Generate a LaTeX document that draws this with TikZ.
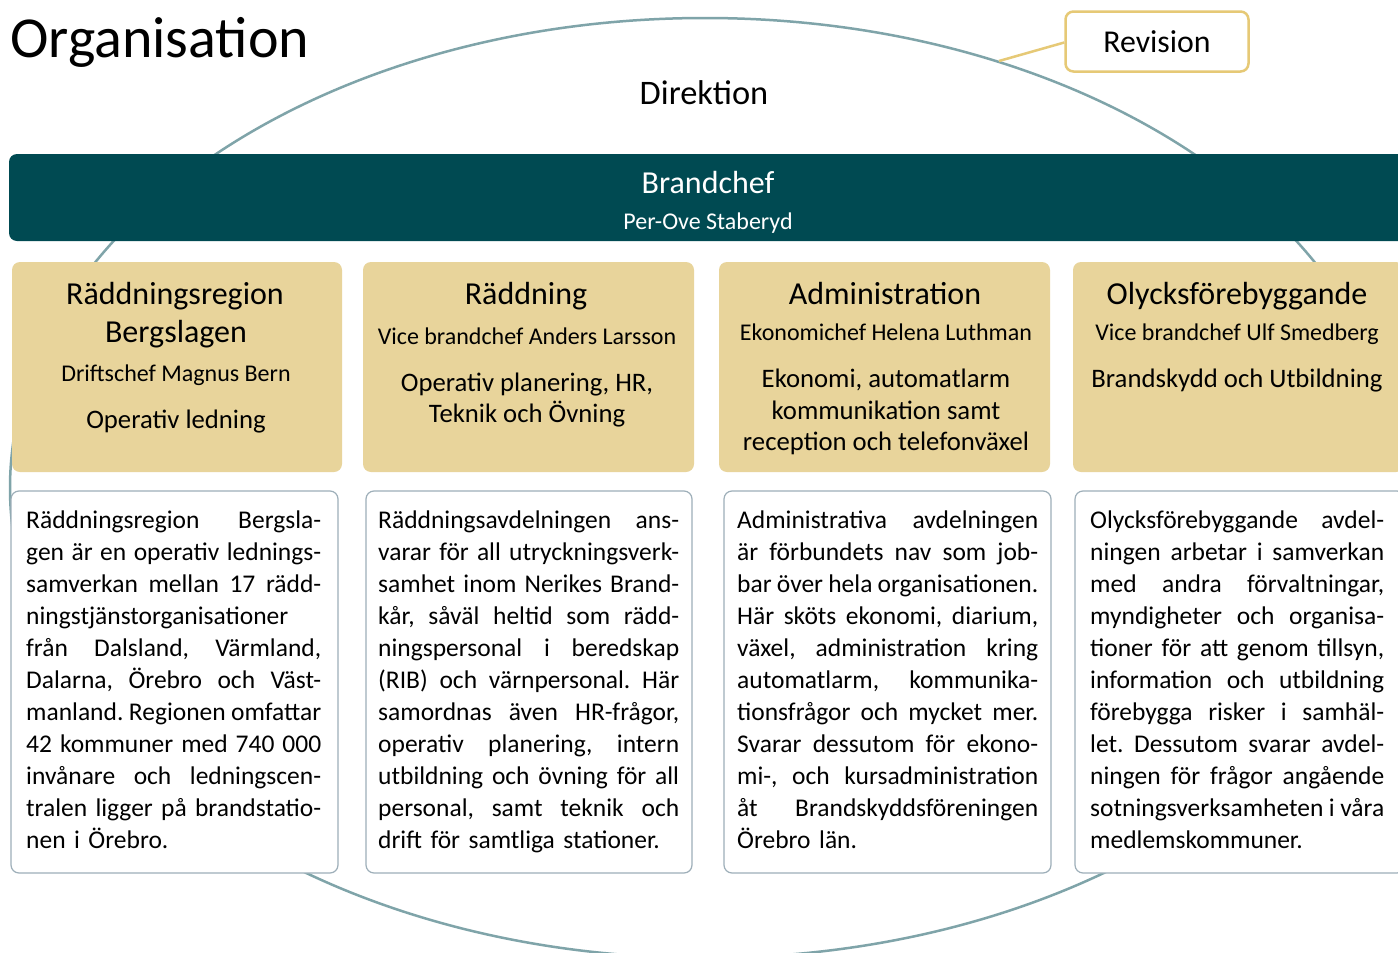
\documentclass[tikz,border=0pt]{standalone}
\usepackage{fontspec}
\setmainfont{Carlito}
\definecolor{brandteal}{HTML}{004A52}
\definecolor{ellcol}{HTML}{7FA4A9}
\definecolor{yfill}{HTML}{E8D49B}
\definecolor{revcol}{HTML}{E6C976}
\definecolor{tbord}{HTML}{9EAFB9}
\newcommand\fs[2]{\fontsize{#1}{#2}\selectfont}
\newcommand\curw{295pt}
\newcommand\jl[1]{\hbox to \curw{\spaceskip=0.226em plus 1fil minus 0.12em\relax #1}}
\newcommand\lastl[1]{\hbox{#1}}
\tikzset{
  ybox/.style={fill=yfill, rounded corners=8pt, draw=none, inner sep=0pt},
  tbox/.style={fill=white, draw=tbord, line width=1.2pt, rounded corners=8pt, inner sep=0pt},
  htitle/.style={anchor=base, inner sep=0pt, font=\fs{32}{36}},
  hsub/.style={anchor=base, inner sep=0pt, font=\fs{24}{28}},
  hmain/.style={anchor=base, inner sep=0pt, font=\fs{26.7}{30}},
  body/.style={anchor=north west, inner sep=0pt, text width=#1, align=left, font=\fs{25.5}{32}\frenchspacing},
}
\begin{document}
\begin{tikzpicture}[x=1pt,y=-1pt]
\clip (0,0) rectangle (1398,953);
\fill[white] (0,0) rectangle (1398,953);
% ellipse
\draw[ellcol, line width=2.5pt] (705,488) ellipse [x radius=695pt, y radius=470pt];
\coordinate (revE) at (999,61);
% title
\node[anchor=base west, inner sep=0pt, font=\fs{58}{64}] (title) at (10,57) {Organisation};
\node[anchor=base, inner sep=0pt, font=\fs{34.4}{38}] (direktion) at (704,104) {Direktion};
% revision
\node[draw=revcol, line width=2.5pt, fill=white, rounded corners=8pt, minimum width=183pt, minimum height=60pt, inner sep=0pt, font=\fs{31.8}{34}] (revision) at (1157,41.5) {Revision};
\draw[revcol, line width=2.5pt] (revision.west) ++(0,1) -- (revE);
% brandchef bar
\node[fill=brandteal, rounded corners=8pt, minimum width=1398pt, minimum height=87pt, inner sep=0pt] (bar) at (708,197.5) {};
\node[anchor=base, inner sep=0pt, text=white, font=\fs{32}{36}] (bc) at (708,193) {Brandchef};
\node[anchor=base, inner sep=0pt, text=white, font=\fs{24}{28}] (bcname) at (708,229) {Per-Ove Staberyd};
% header boxes
\node[ybox, minimum width=330pt, minimum height=210pt] (h1) at (177,367) {};
\node[ybox, minimum width=331pt, minimum height=210pt] (h2) at (528.5,367) {};
\node[ybox, minimum width=331pt, minimum height=210pt] (h3) at (884.5,367) {};
\node[ybox, minimum width=331pt, minimum height=210pt] (h4) at (1238.5,367) {};
% header texts
\node[htitle] (h1a) at (175,304) {Räddningsregion};
\node[htitle] (h1b) at (176,342) {Bergslagen};
\node[hsub] (h1c) at (176,381) {Driftschef Magnus Bern};
\node[hmain] (h1d) at (176,428) {Operativ ledning};
\node[htitle] (h2a) at (526,304) {Räddning};
\node[hsub] (h2b) at (527,344) {Vice brandchef Anders Larsson};
\node[hmain] (h2c) at (527,391) {Operativ planering, HR,};
\node[hmain] (h2d) at (527,422) {Teknik och Övning};
\node[htitle] (h3a) at (885,304) {Administration};
\node[hsub] (h3b) at (886,340) {Ekonomichef Helena Luthman};
\node[hmain] (h3c) at (886,387) {Ekonomi, automatlarm};
\node[hmain] (h3d) at (886,419) {kommunikation samt};
\node[hmain] (h3e) at (886,450) {reception och telefonväxel};
\node[htitle] (h4a) at (1237,304) {Olycksförebyggande};
\node[hsub] (h4b) at (1237,340) {Vice brandchef Ulf Smedberg};
\node[hmain] (h4c) at (1237,387) {Brandskydd och Utbildning};
% text boxes
\node[tbox, minimum width=327pt, minimum height=382pt] (t1) at (174.5,682) {};
\node[tbox, minimum width=326pt, minimum height=382pt] (t2) at (529,682) {};
\node[tbox, minimum width=327pt, minimum height=382pt] (t3) at (887.5,682) {};
\node[tbox, minimum width=330pt, minimum height=382pt] (t4) at (1240,682) {};
\renewcommand\curw{295pt}
\node[body=295pt] (b1) at (26,511) {%
\jl{Räddningsregion Bergsla-}
\jl{gen är en operativ lednings-}
\jl{samverkan mellan 17 rädd-}
\jl{ningstjänstorganisationer}
\jl{från Dalsland, Värmland,}
\jl{Dalarna, Örebro och Väst-}
\jl{manland. Regionen omfattar}
\jl{42 kommuner med 740 000}
\jl{invånare och ledningscen-}
\jl{tralen ligger på brandstatio-}
\lastl{nen i Örebro.}};
\renewcommand\curw{301pt}
\node[body=301pt] (b2) at (378,511) {%
\jl{Räddningsavdelningen ans-}
\jl{varar för all utryckningsverk-}
\jl{samhet inom Nerikes Brand-}
\jl{kår, såväl heltid som rädd-}
\jl{ningspersonal i beredskap}
\jl{(RIB) och värnpersonal. Här}
\jl{samordnas även HR-frågor,}
\jl{operativ planering, intern}
\jl{utbildning och övning för all}
\jl{personal, samt teknik och}
\lastl{drift för samtliga stationer.}};
\renewcommand\curw{301pt}
\node[body=301pt] (b3) at (737,511) {%
\jl{Administrativa avdelningen}
\jl{är förbundets nav som job-}
\jl{bar över hela organisationen.}
\jl{Här sköts ekonomi, diarium,}
\jl{växel, administration kring}
\jl{automatlarm, kommunika-}
\jl{tionsfrågor och mycket mer.}
\jl{Svarar dessutom för ekono-}
\jl{mi-, och kursadministration}
\jl{åt Brandskyddsföreningen}
\lastl{Örebro län.}};
\renewcommand\curw{294pt}
\node[body=294pt] (b4) at (1090,511) {%
\jl{Olycksförebyggande avdel-}
\jl{ningen arbetar i samverkan}
\jl{med andra förvaltningar,}
\jl{myndigheter och organisa-}
\jl{tioner för att genom tillsyn,}
\jl{information och utbildning}
\jl{förebygga risker i samhäl-}
\jl{let. Dessutom svarar avdel-}
\jl{ningen för frågor angående}
\jl{sotningsverksamheten i våra}
\lastl{medlemskommuner.}};
\end{tikzpicture}
\end{document}
